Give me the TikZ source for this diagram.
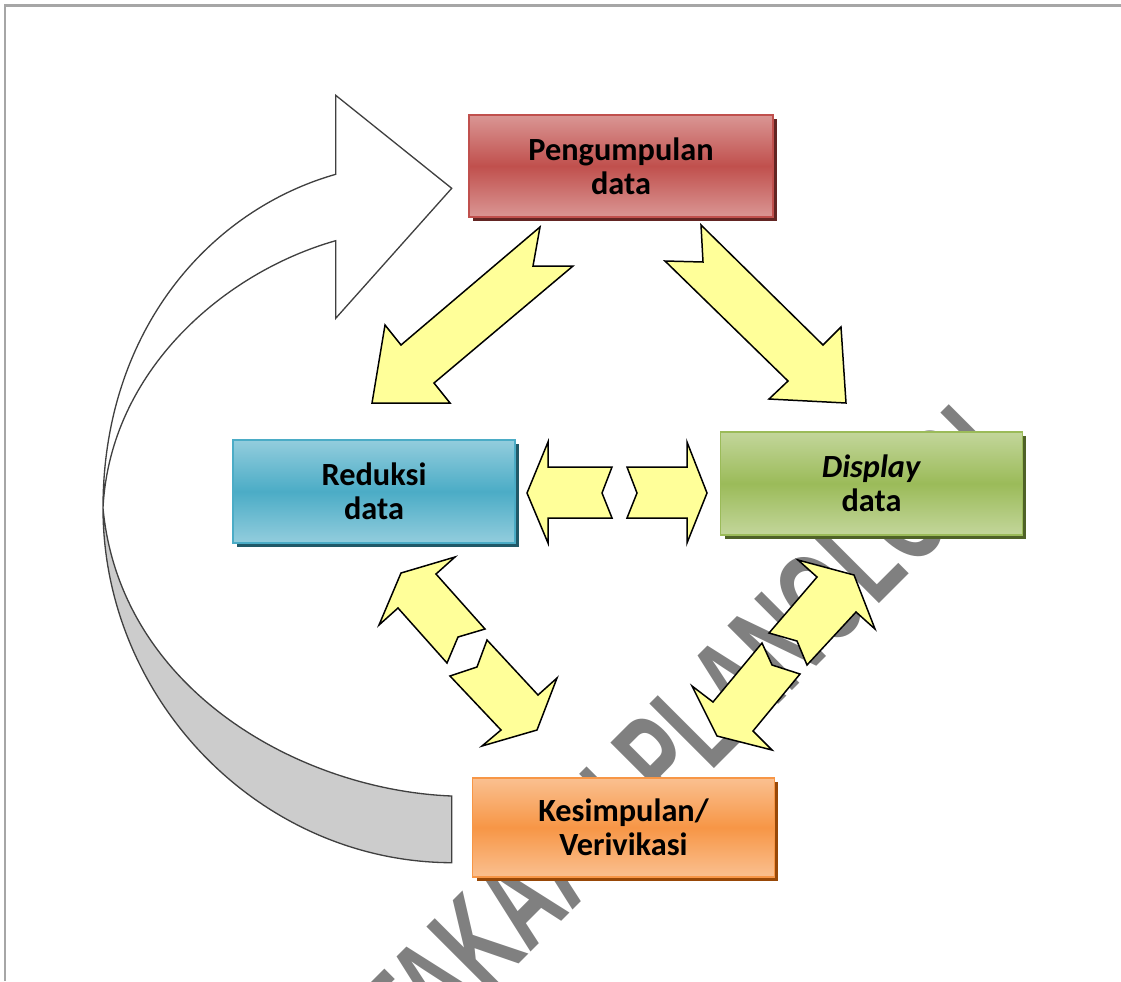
\documentclass[tikz,border=0pt]{standalone}
\usepackage{fontspec}
\setmainfont{Carlito}
\newfontfamily\wmfont[FakeStretch=0.62]{Liberation Sans}
\usetikzlibrary{shadows}
\definecolor{myyellow}{HTML}{FFFF99}
\definecolor{redlight}{HTML}{DA9694}
\definecolor{redmid}{HTML}{C0504D}
\definecolor{redshadow}{HTML}{632523}
\definecolor{bluelight}{HTML}{93CDDD}
\definecolor{bluemid}{HTML}{4BACC6}
\definecolor{blueshadow}{HTML}{215968}
\definecolor{greenlight}{HTML}{C3D69B}
\definecolor{greenmid}{HTML}{9BBB59}
\definecolor{greenshadow}{HTML}{4F6228}
\definecolor{orangelight}{HTML}{FAC090}
\definecolor{orangemid}{HTML}{F79646}
\definecolor{orangeshadow}{HTML}{984807}
\definecolor{framegray}{HTML}{A6A6A6}
\definecolor{wmgray}{HTML}{808080}
\definecolor{backgray}{HTML}{CCCCCC}
\definecolor{backline}{HTML}{404040}

\tikzset{
  stagebox/.style n args={3}{minimum width=6.04cm, minimum height=2.04cm,
    align=center, font=\fontsize{18.4}{19.6}\selectfont\bfseries,
    line width=0.9pt, draw=#2, top color=#1, bottom color=#1, middle color=#2,
    drop shadow={fill=#3, opacity=1, shadow xshift=0.08cm, shadow yshift=-0.08cm}},
  yarrow/.style={fill=myyellow, draw=black, line width=0.85pt},
  backarrow/.style={draw=backline, line width=0.75pt},
}

\begin{document}
\begin{tikzpicture}[x=0.02cm,y=-0.02cm]
\useasboundingbox (0,0) rectangle (1121,981);

% watermark
\begin{scope}
\clip (0,0) rectangle (1121,981);
\node[anchor=base east, rotate=45, text=wmgray, inner sep=0pt,
  font=\wmfont\bfseries\fontsize{75.5}{75.5}\selectfont] (wm) at (1018,465) {PERPUSTAKAAN PLANOLOGI};
\end{scope}

% frame
\draw[framegray, line width=0.06cm] (5,981) -- (5,5) -- (1121,5);

% big return arrow
\coordinate (twist) at (103,508);
\filldraw[backarrow, fill=backgray] (twist) .. controls (103,700) and (260,862) .. (451.7,862.7)
  -- (451.7,796) .. controls (300,790) and (120,690) .. (twist);
\filldraw[backarrow, fill=white] (twist) .. controls (103,330) and (210,210) .. (335.7,174.3)
  -- (335.7,95.3) -- (451.7,188.3) -- (335.7,318.3) -- (335.7,240.7)
  .. controls (225,272) and (110,370) .. (twist);

% stages
\node[stagebox={redlight}{redmid}{redshadow}, minimum width=6.08cm] (peng) at (621,166) {Pengumpulan\\data};
\node[stagebox={bluelight}{bluemid}{blueshadow}, minimum width=5.64cm, minimum height=2.06cm] (red) at (374,491.5) {Reduksi\\data};
\node[stagebox={greenlight}{greenmid}{greenshadow}, minimum height=2.06cm] (disp) at (871.5,483.5) {\textit{Display}\\data};
\node[stagebox={orangelight}{orangemid}{orangeshadow}, minimum height=1.98cm] (kes) at (623.5,827.5) {Kesimpulan/\\Verivikasi};

% block arrows
\draw[yarrow] (372,403) -- (385,325) -- (401,345) -- (540,227) -- (533,266) -- (573,266) -- (434,383) -- (450,403) -- cycle;
\draw[yarrow] (701,225) -- (823,345) -- (841,327) -- (846,403) -- (769,399) -- (788,381) -- (665,261) -- (703,262) -- cycle;

\draw[yarrow] (527,493) -- (548,442) -- (548,467) -- (612,467) -- (602,493) -- (612,518) -- (548,518) -- (548,543) -- cycle;
\draw[yarrow] (627,467) -- (687,467) -- (687,442) -- (707,493) -- (687,543) -- (687,518) -- (627,518) -- (637,493) -- cycle;

\draw[yarrow] (401,573) -- (455,557) -- (436,574) -- (485,629) -- (458,637) -- (447,663) -- (398,608) -- (379,625) -- cycle;
\draw[yarrow] (487,640) -- (538,695) -- (557,678) -- (537,730) -- (482,746) -- (501,730) -- (450,676) -- (477,667) -- cycle;

\draw[yarrow] (854,575) -- (875,629) -- (856,612) -- (807,665) -- (797,641) -- (769,633) -- (817,577) -- (798,560) -- cycle;
\draw[yarrow] (762,643) -- (772,665) -- (800,674) -- (753,731) -- (772,750) -- (717,736) -- (692,686) -- (713,702) -- cycle;

\end{tikzpicture}
\end{document}
